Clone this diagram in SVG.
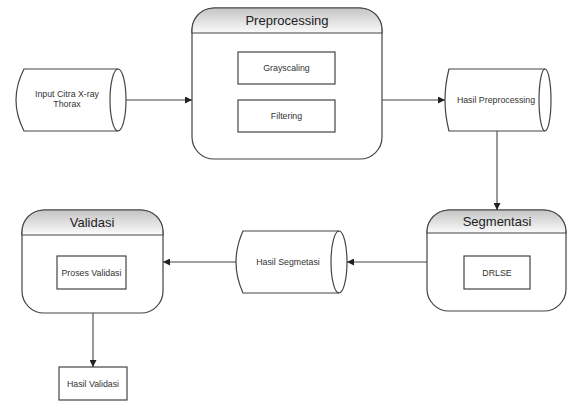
<svg xmlns="http://www.w3.org/2000/svg" width="568" height="403" viewBox="0 0 568 403">
<defs>
<linearGradient id="hdr" x1="0" y1="0" x2="0" y2="1">
<stop offset="0" stop-color="#c4c4c4"/>
<stop offset="1" stop-color="#fbfbfb"/>
</linearGradient>
<marker id="arr" viewBox="0 0 10 10" refX="10" refY="5" markerWidth="7" markerHeight="7" markerUnits="userSpaceOnUse" orient="auto">
<path d="M0,0 L10,5 L0,10 Z" fill="#222"/>
</marker>
</defs>
<style>
.box{fill:#fff;stroke:#444;stroke-width:1.2}
.hdr{fill:url(#hdr);stroke:#444;stroke-width:1.2}
.rect{fill:#fff;stroke:#444;stroke-width:1.2}
.cyl{fill:#fff;stroke:#444;stroke-width:1.2}
.ln{fill:none;stroke:#444;stroke-width:1.2}
.title{font-family:"Liberation Sans",Arial,sans-serif;font-size:13px;fill:#222;text-anchor:middle}
.lbl{font-family:"Liberation Sans",Arial,sans-serif;font-size:8.8px;fill:#333;text-anchor:middle}
.con{fill:none;stroke:#444;stroke-width:1.1;marker-end:url(#arr)}
</style>
<rect width="568" height="403" fill="#fff"/>

<g id="input">
<path class="cyl" d="M24,69 H118 A8,31 0 0 1 118,131 H24 Q8,100 24,69 Z"/>
<path class="ln" d="M118,69 A8,31 0 0 0 118,131"/>
<text class="lbl" x="67" y="97">Input Citra X-ray</text>
<text class="lbl" x="67" y="107">Thorax</text>
</g>

<g id="preprocessing">
<rect class="box" x="192" y="8" width="190" height="151" rx="22" ry="22"/>
<path class="hdr" d="M192,33 V30 A22,22 0 0 1 214,8 H360 A22,22 0 0 1 382,30 V33 Z"/>
<text class="title" x="287" y="25">Preprocessing</text>
<rect class="rect" x="238" y="52" width="97" height="32"/>
<text class="lbl" x="286.5" y="71">Grayscaling</text>
<rect class="rect" x="238" y="100" width="97" height="32"/>
<text class="lbl" x="286.5" y="119">Filtering</text>
</g>

<g id="hasil-preprocessing">
<path class="cyl" d="M449,69 H545 A6,31 0 0 1 545,131 H449 Q441,100 449,69 Z"/>
<path class="ln" d="M545,69 A6,31 0 0 0 545,131"/>
<text class="lbl" x="496" y="103">Hasil Preprocessing</text>
</g>

<g id="segmentasi">
<rect class="box" x="427" y="210" width="139" height="101" rx="22" ry="22"/>
<path class="hdr" d="M427,233 V232 A22,22 0 0 1 449,210 H544 A22,22 0 0 1 566,232 V233 Z"/>
<text class="title" x="497" y="226">Segmentasi</text>
<rect class="rect" x="464" y="256" width="66" height="33"/>
<text class="lbl" x="497" y="276">DRLSE</text>
</g>

<g id="hasil-segmetasi">
<path class="cyl" d="M243,231 H339 A8,31 0 0 1 339,293 H243 Q229,262 243,231 Z"/>
<path class="ln" d="M339,231 A8,31 0 0 0 339,293"/>
<text class="lbl" x="288" y="265">Hasil Segmetasi</text>
</g>

<g id="validasi">
<rect class="box" x="22" y="210" width="141" height="103" rx="22" ry="22"/>
<path class="hdr" d="M22,235 V232 A22,22 0 0 1 44,210 H141 A22,22 0 0 1 163,232 V235 Z"/>
<text class="title" x="92" y="227">Validasi</text>
<rect class="rect" x="57" y="256" width="69" height="33"/>
<text class="lbl" x="91.5" y="276">Proses Validasi</text>
</g>

<g id="hasil-validasi">
<rect class="rect" x="59" y="367" width="68" height="33"/>
<text class="lbl" x="93" y="387">Hasil Validasi</text>
</g>

<g id="connectors">
<path class="con" d="M126,100 H192"/>
<path class="con" d="M382,100 H445"/>
<path class="con" d="M497,131 V210"/>
<path class="con" d="M427,262 H347"/>
<path class="con" d="M236,262 H163"/>
<path class="con" d="M93,313 V367"/>
</g>
</svg>
